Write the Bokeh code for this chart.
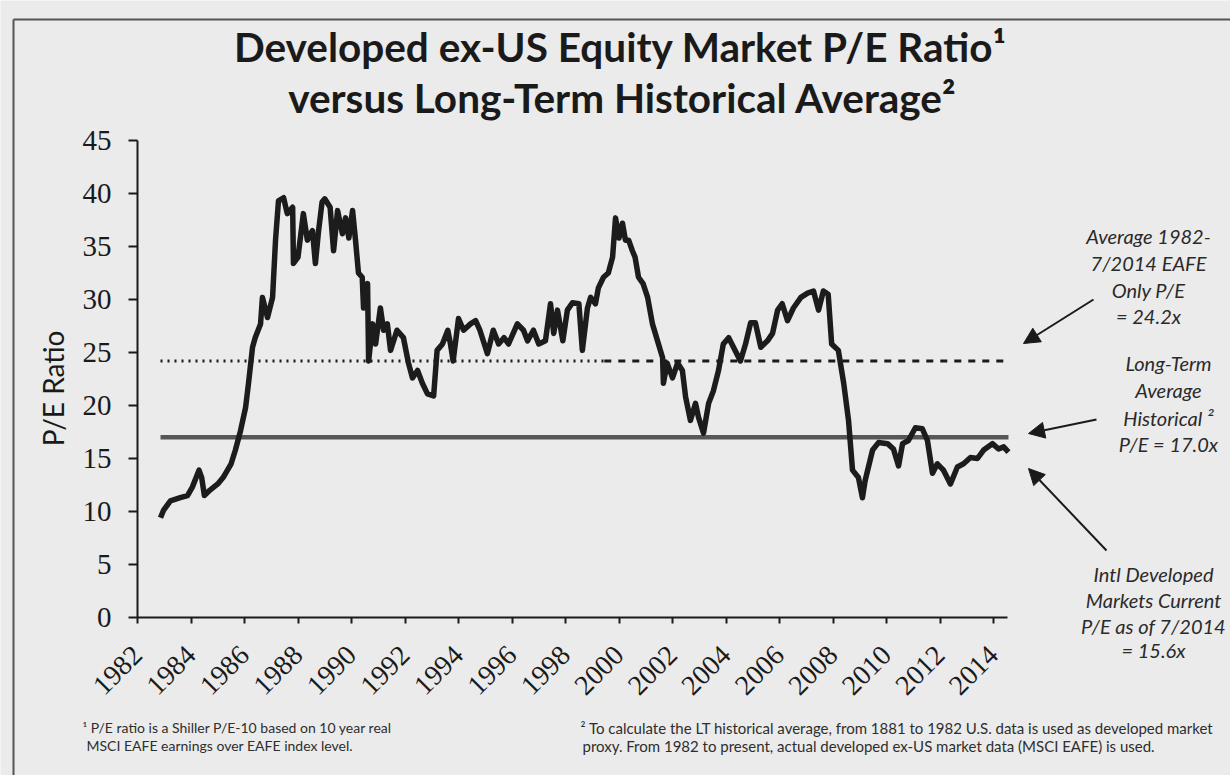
import math
from bokeh.plotting import figure
from bokeh.models import Range1d, FixedTicker, Label, Arrow, NormalHead
from bokeh.embed import file_html
from bokeh.resources import INLINE

# ---------------- data ----------------
years = [1982.86, 1982.97, 1983.23, 1983.6, 1983.87, 1984.05, 1984.3, 1984.4, 1984.5, 1984.7,
         1985.0, 1985.2, 1985.5, 1985.66, 1985.85, 1986.04, 1986.15, 1986.3, 1986.4, 1986.6,
         1986.67, 1986.86, 1987.05, 1987.16, 1987.27, 1987.46, 1987.6, 1987.8, 1987.83, 1988.0,
         1988.2, 1988.35, 1988.54, 1988.65, 1988.77, 1988.9, 1989.0, 1989.2, 1989.33, 1989.48,
         1989.66, 1989.78, 1989.9, 1990.04, 1990.15, 1990.26, 1990.4, 1990.45, 1990.6, 1990.64,
         1990.79, 1990.9, 1991.08, 1991.2, 1991.34, 1991.46, 1991.7, 1991.94, 1992.13, 1992.28,
         1992.47, 1992.65, 1992.84, 1993.07, 1993.2, 1993.4, 1993.6, 1993.7, 1993.8, 1994.0,
         1994.19, 1994.45, 1994.64, 1994.8, 1995.08, 1995.3, 1995.5, 1995.7, 1995.87, 1996.2,
         1996.43, 1996.58, 1996.8, 1997.0, 1997.25, 1997.44, 1997.56, 1997.7, 1997.9, 1998.07,
         1998.26, 1998.5, 1998.63, 1998.82, 1998.94, 1999.12, 1999.23, 1999.42, 1999.6, 1999.76,
         1999.87, 2000.0, 2000.13, 2000.24, 2000.36, 2000.5, 2000.6, 2000.73, 2000.9, 2001.07,
         2001.25, 2001.44, 2001.63, 2001.66, 2001.8, 2002.0, 2002.19, 2002.37, 2002.49, 2002.67,
         2002.86, 2002.97, 2003.16, 2003.35, 2003.53, 2003.72, 2003.9, 2004.1, 2004.28, 2004.54,
         2004.73, 2004.92, 2005.1, 2005.3, 2005.55, 2005.74, 2005.93, 2006.1, 2006.3, 2006.52,
         2006.8, 2007.05, 2007.27, 2007.46, 2007.64, 2007.82, 2007.95, 2008.2, 2008.4, 2008.58,
         2008.73, 2008.95, 2009.1, 2009.2, 2009.48, 2009.7, 2010.04, 2010.26, 2010.45, 2010.6,
         2010.82, 2011.08, 2011.34, 2011.53, 2011.72, 2011.9, 2012.13, 2012.39, 2012.65, 2012.88,
         2013.14, 2013.4, 2013.63, 2013.96, 2014.19, 2014.38, 2014.56]
pe = [9.4, 10.1, 11.0, 11.3, 11.5, 12.3, 13.9, 13.2, 11.5, 12.0,
      12.6, 13.2, 14.5, 15.8, 17.6, 19.8, 22.1, 25.5, 26.4, 27.7,
      30.2, 28.3, 30.2, 35.6, 39.3, 39.6, 38.1, 38.7, 33.4, 34.0,
      38.1, 35.6, 36.5, 33.4, 36.5, 39.2, 39.5, 38.7, 34.6, 38.4,
      36.2, 37.7, 35.8, 38.4, 35.6, 32.5, 32.1, 29.2, 31.5, 24.2,
      27.7, 25.8, 29.2, 27.1, 27.7, 25.2, 27.1, 26.4, 24.0, 22.6,
      23.3, 22.1, 21.1, 20.9, 25.2, 25.8, 27.1, 25.8, 24.2, 28.2,
      27.1, 27.7, 28.0, 27.1, 24.9, 27.1, 25.8, 26.4, 25.8, 27.7,
      27.1, 26.1, 27.1, 25.8, 26.1, 29.6, 26.8, 29.0, 26.1, 29.0,
      29.7, 29.6, 25.2, 29.2, 30.2, 29.6, 31.1, 32.1, 32.5, 34.0,
      37.7, 35.8, 37.2, 35.6, 35.6, 34.6, 34.0, 32.1, 31.5, 30.2,
      27.7, 26.1, 24.5, 22.1, 24.0, 22.6, 24.0, 23.3, 20.8, 18.6,
      20.2, 18.9, 17.4, 20.2, 21.4, 23.3, 25.8, 26.4, 25.5, 24.2,
      25.8, 27.8, 27.8, 25.5, 26.1, 26.8, 29.0, 29.6, 28.0, 29.2,
      30.2, 30.6, 30.8, 29.0, 30.8, 30.5, 25.8, 25.2, 22.1, 18.6,
      13.9, 13.2, 11.3, 12.9, 15.8, 16.5, 16.4, 15.9, 14.3, 16.4,
      16.7, 17.9, 17.8, 16.7, 13.6, 14.5, 13.9, 12.6, 14.2, 14.5,
      15.1, 15.0, 15.8, 16.4, 15.9, 16.1, 15.6]

eafe_avg = 24.2            # average 1982-7/2014 EAFE only P/E
eafe_split_year = 1999.45  # dotted before, dashed after
lt_avg = 17.0              # long-term historical average
tick_years = list(range(1982, 2015, 2))
y_ticks = list(range(0, 46, 5))

# ---------------- geometry (page pixels) ----------------
W, H = 1230, 775
AX_LEFT_PX, AX_BOTTOM_PX = 137, 617      # where 1982 / 0 sit on the page
PX_PER_YEAR = 26.75
PX_PER_UNIT = 477 / 45.0
X_AXIS_END = 2014.52


def X(px):
    return 1982 + (px - AX_LEFT_PX) / PX_PER_YEAR


def Y(py):
    return (AX_BOTTOM_PX - py) / PX_PER_UNIT


BG = "#ebebeb"
INK = "#1a1a1a"
p = figure(width=W, height=H, x_range=Range1d(X(0), X(W)), y_range=Range1d(Y(H), Y(0)),
           output_backend="svg", toolbar_location=None,
           min_border_left=0, min_border_right=0, min_border_top=0, min_border_bottom=0,
           background_fill_color=BG, border_fill_color=BG, outline_line_color=None)
p.xgrid.grid_line_color = None
p.ygrid.grid_line_color = None

for ax in (p.xaxis[0], p.yaxis[0]):
    ax.axis_line_color = INK
    ax.axis_line_width = 2
    ax.major_tick_line_color = INK
    ax.major_tick_line_width = 2
    ax.major_tick_in = 0
    ax.minor_tick_in = 0
    ax.minor_tick_out = 0
    ax.major_label_text_font = "Liberation Serif"
    ax.major_label_text_color = INK

p.xaxis.fixed_location = 0
p.xaxis.bounds = (1982, X_AXIS_END)
p.xaxis.ticker = FixedTicker(ticks=tick_years)
p.xaxis.major_label_overrides = {t: str(t) for t in tick_years}
p.xaxis.major_label_orientation = math.pi / 4
p.xaxis.major_label_text_font_size = "28px"
p.xaxis.major_tick_out = 6
p.xaxis.major_label_standoff = 27

p.yaxis.fixed_location = 1982
p.yaxis.bounds = (0, 45)
p.yaxis.ticker = FixedTicker(ticks=y_ticks)
p.yaxis.major_label_text_font_size = "29px"
p.yaxis.major_tick_out = 9
p.yaxis.major_label_standoff = 17

# average lines
p.line([years[0], eafe_split_year], [eafe_avg, eafe_avg], line_color=INK,
       line_width=3, line_dash="2 5")
p.line([eafe_split_year, years[-1]], [eafe_avg, eafe_avg], line_color=INK,
       line_width=3, line_dash="7 7")
p.line([years[0], years[-1]], [lt_avg, lt_avg], line_color="#575757", line_width=4.5)

# P/E series
p.line(years, pe, line_color="#1c1c1c", line_width=5.5, line_join="round")


def add_text(px, py, text, size, font="Lato", style="normal", align="center",
             color=INK, angle=0):
    p.add_layout(Label(x=X(px), y=Y(py), text=text, text_font=font,
                       text_font_size=size, text_font_style=style, text_align=align,
                       text_baseline="middle", text_color=color, angle=angle))


# border lines of the original slide box
p.add_layout(Arrow(x_start=X(13), y_start=Y(H + 20), x_end=X(13), y_end=Y(19), end=None,
                   line_color="#555555", line_width=2))
p.add_layout(Arrow(x_start=X(13), y_start=Y(19), x_end=X(W + 20), y_end=Y(19), end=None,
                   line_color="#555555", line_width=2))

# title
add_text(620, 46, "Developed ex-US Equity Market P/E Ratio\u00b9", "40.5px", style="bold")
add_text(622, 97, "versus Long-Term Historical Average\u00b2", "40.5px", style="bold")

# y axis title
add_text(52, 388, "P/E Ratio", "28px", angle=math.pi / 2)

# right side annotations
ann_color = "#2a2a2a"
for py, t in zip([235, 262, 289, 315], ["Average 1982-", "7/2014 EAFE", "Only P/E", "= 24.2x"]):
    add_text(1148, py, t, "20px", style="italic", color=ann_color)
for py, t in zip([362, 389, 417, 443], ["Long-Term", "Average", "Historical \u00b2", "P/E = 17.0x"]):
    add_text(1168, py, t, "20px", style="italic", color=ann_color)
for py, t in zip([573, 599, 625, 649], ["Intl Developed", "Markets Current",
                                        "P/E as of 7/2014", "= 15.6x"]):
    add_text(1153, py, t, "20px", style="italic", color=ann_color)

for (x1, y1, x2, y2) in [(1093, 299, 1023, 343), (1096, 419, 1028, 433), (1106, 550, 1028, 468)]:
    p.add_layout(Arrow(x_start=X(x1), y_start=Y(y1), x_end=X(x2), y_end=Y(y2),
                       line_color=INK, line_width=2,
                       end=NormalHead(size=16, fill_color=INK, line_color=INK)))

# footnotes
fn_color = "#2e2e2e"
add_text(82, 727, "\u00b9 P/E ratio is a Shiller P/E-10 based on 10 year real", "14px",
         align="left", color=fn_color)
add_text(86, 745, "MSCI EAFE earnings over EAFE index level.", "14px", align="left", color=fn_color)
add_text(580, 727, "\u00b2 To calculate the LT historical average, from 1881 to 1982 U.S. data is used as developed market",
         "15px", align="left", color=fn_color)
add_text(582, 745, "proxy.  From 1982 to present, actual developed ex-US market data (MSCI EAFE) is used.",
         "15px", align="left", color=fn_color)

html = file_html(p, INLINE)
open("out.html", "w").write(html)
